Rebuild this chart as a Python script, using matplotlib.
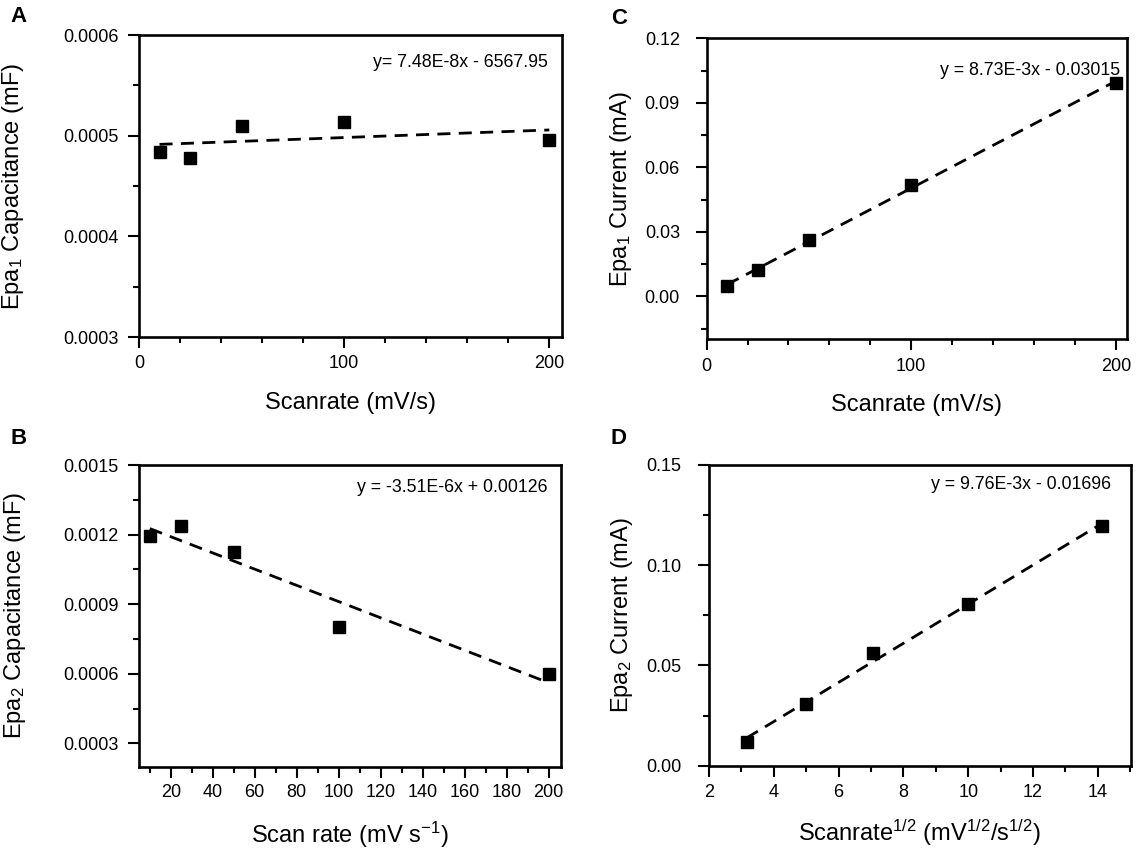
import matplotlib
matplotlib.use('Agg')
import matplotlib.pyplot as plt
from matplotlib.ticker import MultipleLocator, FormatStrFormatter
import numpy as np

plt.rcParams['font.family'] = ['Liberation Sans', 'DejaVu Sans']
plt.rcParams['mathtext.fontset'] = 'custom'
plt.rcParams['mathtext.rm'] = 'Liberation Sans'
plt.rcParams['mathtext.it'] = 'Liberation Sans:italic'
plt.rcParams['mathtext.bf'] = 'Liberation Sans:bold'

# data
scanrate = [10, 25, 50, 100, 200]
scanrate_sqrt = [3.16, 5.0, 7.07, 10.0, 14.14]

cap_epa1 = [0.000484, 0.000478, 0.000510, 0.000514, 0.000496]   # A
cap_epa2 = [0.001194, 0.001238, 0.001123, 0.000804, 0.000600]   # B
cur_epa1 = [0.0048, 0.0124, 0.0260, 0.0516, 0.0994]             # C
cur_epa2 = [0.0120, 0.0308, 0.0561, 0.0807, 0.1196]             # D

eq_a = 'y= 7.48E-8x - 6567.95'
eq_b = 'y = -3.51E-6x + 0.00126'
eq_c = 'y = 8.73E-3x - 0.03015'
eq_d = 'y = 9.76E-3x - 0.01696'

W, H = 1139, 850


def panel(ax, x, y, eq, eq_pos, xlabel, ylabel, xlim, ylim,
		  xmaj, xmin, ymaj, ymin, yfmt, ypad, xpad, ylab_x, xlab_y):
	# linear fit over the data range, drawn dashed
	p = np.polyfit(x, y, 1)
	xf = np.array([min(x), max(x)])
	ax.plot(xf, np.polyval(p, xf), color='black', lw=2.0, ls=(0, (4.7, 3)), zorder=2)
	ax.plot(x, y, 's', color='black', ms=9, zorder=3)

	ax.set_xlim(*xlim)
	ax.set_ylim(*ylim)
	ax.xaxis.set_major_locator(MultipleLocator(xmaj))
	ax.xaxis.set_minor_locator(MultipleLocator(xmin))
	ax.yaxis.set_major_locator(MultipleLocator(ymaj))
	ax.yaxis.set_minor_locator(MultipleLocator(ymin))
	ax.xaxis.set_major_formatter(FormatStrFormatter('%d'))
	ax.yaxis.set_major_formatter(FormatStrFormatter(yfmt))

	for s in ax.spines.values():
		s.set_linewidth(1.9)
	ax.tick_params(which='major', direction='out', length=8.2, width=1.5)
	ax.tick_params(which='minor', direction='out', length=4.5, width=1.5)
	ax.tick_params(axis='x', which='major', labelsize=13, pad=xpad)
	ax.tick_params(axis='y', which='major', labelsize=13, pad=ypad)

	ax.set_xlabel(xlabel, fontsize=17)
	ax.set_ylabel(ylabel, fontsize=17)
	ax.xaxis.label.set_va('center')
	ax.xaxis.set_label_coords(0.5, xlab_y)
	ax.yaxis.set_label_coords(ylab_x, 0.5)

	ax.text(eq_pos[0], eq_pos[1], eq, transform=ax.transAxes, ha='right', va='center', fontsize=12.8)


def box(left, right, top, bottom):
	return [left / W, (H - bottom) / H, (right - left) / W, (bottom - top) / H]


fig = plt.figure(figsize=(W / 100, H / 100), dpi=100)
axA = fig.add_axes(box(139, 561.6, 35, 337))
axB = fig.add_axes(box(138.7, 560.5, 465, 766.7))
axC = fig.add_axes(box(706.6, 1126.5, 38.3, 339.3))
axD = fig.add_axes(box(709.1, 1130.8, 465, 765.7))

panel(axA, scanrate, cap_epa1, eq_a, (0.967, 0.91), 'Scanrate (mV/s)',
	  'Epa$_1$ Capacitance (mF)', (0, 206), (0.0003, 0.0006), 100, 20, 0.0001, 0.00005,
	  '%.4f', 6.5, 5, -0.267, -0.219)
panel(axB, scanrate, cap_epa2, eq_b, (0.969, 0.924), 'Scan rate (mV s$^{-1}$)',
	  'Epa$_2$ Capacitance (mF)', (4.7, 205.7), (0.0002, 0.0015), 20, 10, 0.0003, 0.00015,
	  '%.4f', 6.5, 4, -0.263, -0.225)
panel(axC, scanrate, cur_epa1, eq_c, (0.985, 0.894), 'Scanrate (mV/s)',
	  'Epa$_1$ Current (mA)', (0, 205.2), (-0.02, 0.12), 100, 20, 0.03, 0.015,
	  '%.2f', 11, 5, -0.174, -0.219)
panel(axD, scanrate_sqrt, cur_epa2, eq_d, (0.953, 0.934), 'Scanrate$^{1/2}$ (mV$^{1/2}$/s$^{1/2}$)',
	  'Epa$_2$ Current (mA)', (2, 15.02), (0, 0.15), 2, 1, 0.05, 0.025,
	  '%.2f', 12, 5, -0.175, -0.223)

# panel letters
for letter, px, py in [('A', 18.5, 16.5), ('B', 18.5, 438), ('C', 619, 18), ('D', 619, 438)]:
	fig.text(px / W, 1 - py / H, letter, fontsize=16, fontweight='bold', ha='center', va='center')

fig.savefig('out.png', dpi=100)
